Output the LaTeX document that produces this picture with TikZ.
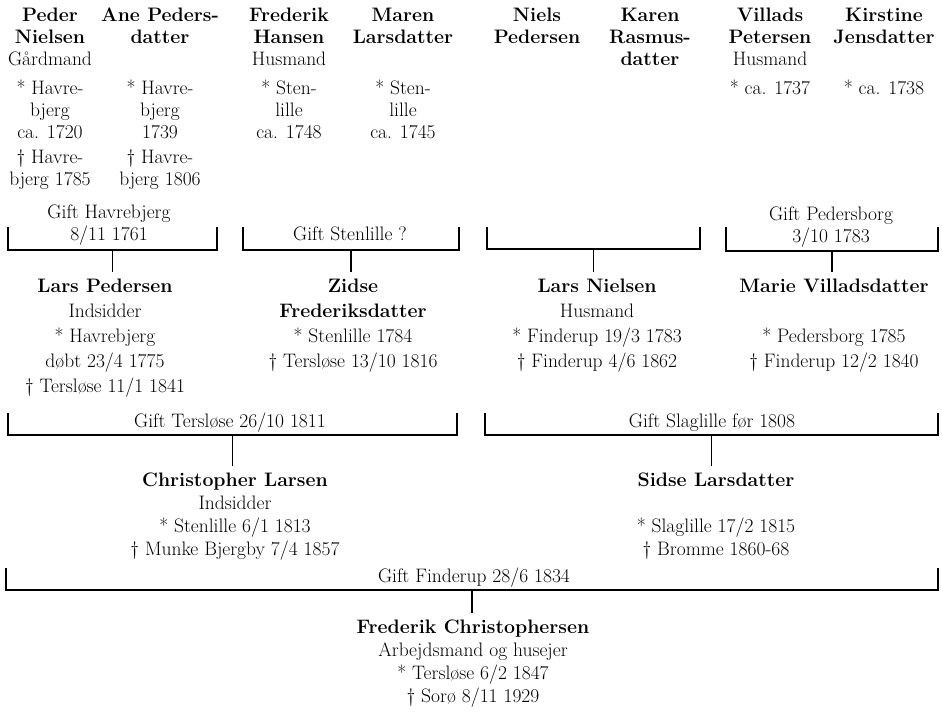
\documentclass[tikz,border=0pt]{standalone}
\usepackage{tikz}

\begin{document}
\begin{tikzpicture}[x=1pt,y=-1pt,
  person/.style={align=center,anchor=north,inner sep=0pt,font=\fontsize{19.5}{22}\selectfont},
  gift/.style={align=center,inner sep=0pt,font=\fontsize{19.5}{22}\selectfont},
  bracket/.style={line width=1.6pt},
  stem/.style={line width=1.6pt,shorten >=7pt}]
\useasboundingbox (0,0) rectangle (942,713);

% oldeforaeldre
\node[person] (peder) at (50,7.5) {\textbf{Peder}\\\textbf{Nielsen}\\Gårdmand\\[7pt]* Havre-\\bjerg\\ca. 1720\\[3pt]\textdagger{} Havre-\\bjerg 1785};
\node[person] (ane) at (160,7.5) {\textbf{Ane Peders-}\\\textbf{datter}\\\mbox{}\\[7pt]* Havre-\\bjerg\\1739\\[3pt]\textdagger{} Havre-\\bjerg 1806};
\node[person] (frederik) at (289,7.5) {\textbf{Frederik}\\\textbf{Hansen}\\Husmand\\[7pt]* Sten-\\lille\\ca. 1748};
\node[person] (maren) at (403,7.5) {\textbf{Maren}\\\textbf{Larsdatter}\\\mbox{}\\[7pt]* Sten-\\lille\\ca. 1745};
\node[person] (niels) at (537,7.5) {\textbf{Niels}\\\textbf{Pedersen}};
\node[person] (karen) at (650,7.5) {\textbf{Karen}\\\textbf{Rasmus-}\\\textbf{datter}};
\node[person] (villads) at (770,7.5) {\textbf{Villads}\\\textbf{Petersen}\\Husmand\\[7pt]* ca. 1737};
\node[person] (kirstine) at (884,7.5) {\textbf{Kirstine}\\\textbf{Jensdatter}\\\mbox{}\\[7pt]* ca. 1738};

% aegteskaber 1
\draw[bracket] (8,227) -- (8,250) -- coordinate (g1) (217,250) -- (217,227);
\node[gift,anchor=north] (g1t) at (109,204.5) {Gift Havrebjerg\\8/11 1761};
\draw[bracket] (243,227) -- (243,250) -- coordinate (g2) (459,250) -- (459,227);
\node[gift,anchor=base] (g2t) at (350,240) {Gift Stenlille ?};
\draw[bracket] (487,227) -- (487,249) -- coordinate (g3) (700,249) -- (700,227);
\draw[bracket] (726,227) -- (726,251) -- coordinate (g4) (938,251) -- (938,227);
\node[gift,anchor=north] (g4t) at (831,206.5) {Gift Pedersborg\\3/10 1783};

% bedsteforaeldre
\node[person,font=\fontsize{19.5}{25}\selectfont] (lars) at (105,278.5) {\textbf{Lars Pedersen}\\Indsidder\\* Havrebjerg\\døbt 23/4 1775\\\textdagger{} Tersløse 11/1 1841};
\node[person,font=\fontsize{19.5}{25}\selectfont] (zidse) at (353,278.5) {\textbf{Zidse}\\\textbf{Frederiksdatter}\\* Stenlille 1784\\\textdagger{} Tersløse 13/10 1816};
\node[person,font=\fontsize{19.5}{25}\selectfont] (larsn) at (597,278.5) {\textbf{Lars Nielsen}\\Husmand\\* Finderup 19/3 1783\\\textdagger{} Finderup 4/6 1862};
\node[person,font=\fontsize{19.5}{25}\selectfont] (marie) at (834,278.5) {\textbf{Marie Villadsdatter}\\\mbox{}\\* Pedersborg 1785\\\textdagger{} Finderup 12/2 1840};
\draw[stem] (g1) -- (g1 |- lars.north);
\draw[stem] (g2) -- (g2 |- zidse.north);
\draw[stem] (g3) -- (g3 |- larsn.north);
\draw[stem] (g4) -- (g4 |- marie.north);

% aegteskaber 2
\draw[bracket] (8,413) -- (8,435) -- coordinate (g5) (457,435) -- (457,413);
\node[gift,anchor=base] (g5t) at (230,427) {Gift Tersløse 26/10 1811};
\draw[bracket] (485,413) -- (485,435) -- coordinate (g6) (938,435) -- (938,413);
\node[gift,anchor=base] (g6t) at (712,427) {Gift Slaglille før 1808};

% foraeldre
\node[person,font=\fontsize{19.5}{23}\selectfont] (christopher) at (235,472.5) {\textbf{Christopher Larsen}\\Indsidder\\* Stenlille 6/1 1813\\\textdagger{} Munke Bjergby 7/4 1857};
\node[person,font=\fontsize{19.5}{23}\selectfont] (sidse) at (716,472.5) {\textbf{Sidse Larsdatter}\\\mbox{}\\* Slaglille 17/2 1815\\\textdagger{} Bromme 1860-68};
\draw[stem] (g5) -- (g5 |- christopher.north);
\draw[stem] (g6) -- (g6 |- sidse.north);

% aegteskab 3
\draw[bracket] (6,568) -- (6,590) -- coordinate (g7) (938,590) -- (938,568);
\node[gift,anchor=base] (g7t) at (474,582) {Gift Finderup 28/6 1834};

\node[person,font=\fontsize{19.5}{23}\selectfont] (frederikc) at (473,619.5) {\textbf{Frederik Christophersen}\\Arbejdsmand og husejer\\* Tersløse 6/2 1847\\\textdagger{} Sorø 8/11 1929};
\draw[stem] (g7) -- (g7 |- frederikc.north);
\end{tikzpicture}
\end{document}
